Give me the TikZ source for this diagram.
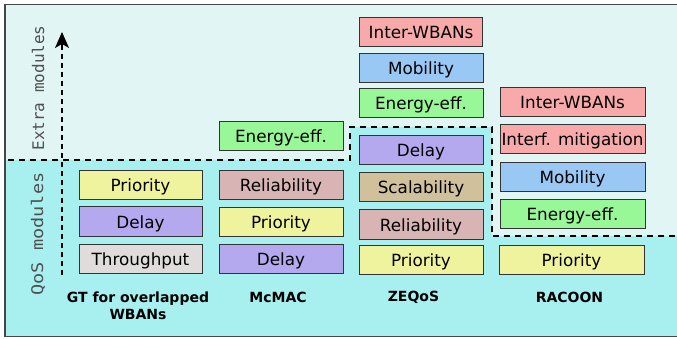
\documentclass[tikz,border=0pt]{standalone}
\usepackage{fontspec}
\setmainfont{DejaVu Sans}
\newfontfamily\monofnt{DejaVu Sans Mono}
\usetikzlibrary{arrows.meta}
\definecolor{bgtop}{RGB}{224,245,244}
\definecolor{bgbot}{RGB}{168,240,240}
\definecolor{cprio}{RGB}{240,243,158}
\definecolor{cdelay}{RGB}{180,168,238}
\definecolor{cthru}{RGB}{224,220,220}
\definecolor{crel}{RGB}{216,180,180}
\definecolor{cener}{RGB}{152,248,152}
\definecolor{cinter}{RGB}{248,170,170}
\definecolor{cmob}{RGB}{154,200,244}
\definecolor{cscal}{RGB}{208,192,156}
\definecolor{frame}{RGB}{70,70,70}
\definecolor{lbl}{RGB}{80,80,80}
\tikzset{
  modbox/.style={draw={rgb,255:red,51;green,51;blue,51}, line width=1pt, minimum height=29pt, inner sep=0pt,
    text height=14.5pt, text depth=1.5pt,
    font=\fontsize{16.8}{19}\selectfont, text=black},
  colname/.style={font=\fontsize{14}{17}\bfseries\selectfont, align=center, text=black},
  sidelbl/.style={font=\fontsize{16}{19}\monofnt\selectfont, text=lbl, rotate=90},
  border/.style={dash pattern=on 6pt off 5pt, line width=2pt},
}
\begin{document}
\begin{tikzpicture}[x=1pt,y=-1pt]
\useasboundingbox (0,0) rectangle (677,339);
% backgrounds
\fill[bgtop] (5,5) rectangle (677,336);
\fill[bgbot] (5,160) -- (350,160) -- (350,127) -- (492,127) -- (492,236) -- (677,236) -- (677,336) -- (5,336) -- cycle;
% frame
\draw[frame, line width=1.5pt] (677,4.5) -- (5,4.5) -- (5,336.5) -- (677,336.5);
% boundary
\draw[border] (8,160) -- (350,160) -- (350,127) -- (492,127) -- (492,236) -- (677,236);
% axis arrow
\coordinate (abot) at (62,275);
\coordinate (amid) at (62,48);
\coordinate (atop) at (62,32);
\draw[dash pattern=on 5pt off 4pt, line width=1.3pt] (abot) -- (amid);
\draw[line width=1.3pt, -{Stealth[length=16pt,width=14pt,inset=4pt]}] (amid) -- (atop);
% side labels
\node[sidelbl] (extra) at (38,88) {Extra modules};
\node[sidelbl] (qos) at (38,234) {\scalebox{1.16}[1]{QoS modules}};
% column 1
\node[modbox, fill=cprio, minimum width=123pt] (g1) at (140.5,185) {Priority};
\node[modbox, fill=cdelay, minimum width=123pt] (g2) at (140.5,221.5) {Delay};
\node[modbox, fill=cthru, minimum width=123pt] (g3) at (140.5,259) {Throughput};
% column 2
\node[modbox, fill=cener, minimum width=124pt] (m0) at (281,136.5) {Energy-eff.};
\node[modbox, fill=crel, minimum width=124pt] (m1) at (281,185) {Reliability};
\node[modbox, fill=cprio, minimum width=124pt] (m2) at (281,222) {Priority};
\node[modbox, fill=cdelay, minimum width=124pt] (m3) at (281,259) {Delay};
% column 3
\node[modbox, fill=cinter, minimum width=123pt] (z1) at (421,32) {Inter-WBANs};
\node[modbox, fill=cmob, minimum width=124pt] (z2) at (421,68.5) {Mobility};
\node[modbox, fill=cener, minimum width=124pt] (z3) at (421,103.5) {Energy-eff.};
\node[modbox, fill=cdelay, minimum width=124pt] (z4) at (421,150) {Delay};
\node[modbox, fill=cscal, minimum width=124pt] (z5) at (421,187.5) {Scalability};
\node[modbox, fill=crel, minimum width=124pt] (z6) at (421,224.5) {Reliability};
\node[modbox, fill=cprio, minimum width=124pt] (z7) at (421,259.5) {Priority};
% column 4
\node[modbox, fill=cinter, minimum width=145pt] (r1) at (572.5,102.5) {Inter-WBANs};
\node[modbox, fill=cinter, minimum width=145pt] (r2) at (572.5,139.5) {Interf. mitigation};
\node[modbox, fill=cmob, minimum width=145pt] (r3) at (572.5,177.5) {Mobility};
\node[modbox, fill=cener, minimum width=145pt] (r4) at (572.5,214) {Energy-eff.};
\node[modbox, fill=cprio, minimum width=145pt] (r5) at (571.5,259.5) {Priority};
% column names
\node[colname] (n1) at (138,305.5) {GT for overlapped\\WBANs};
\node[colname] (n2) at (278,297.5) {McMAC};
\node[colname] (n3) at (413.5,297.5) {ZEQoS};
\node[colname] (n4) at (569.5,297.5) {RACOON};
\end{tikzpicture}
\end{document}
